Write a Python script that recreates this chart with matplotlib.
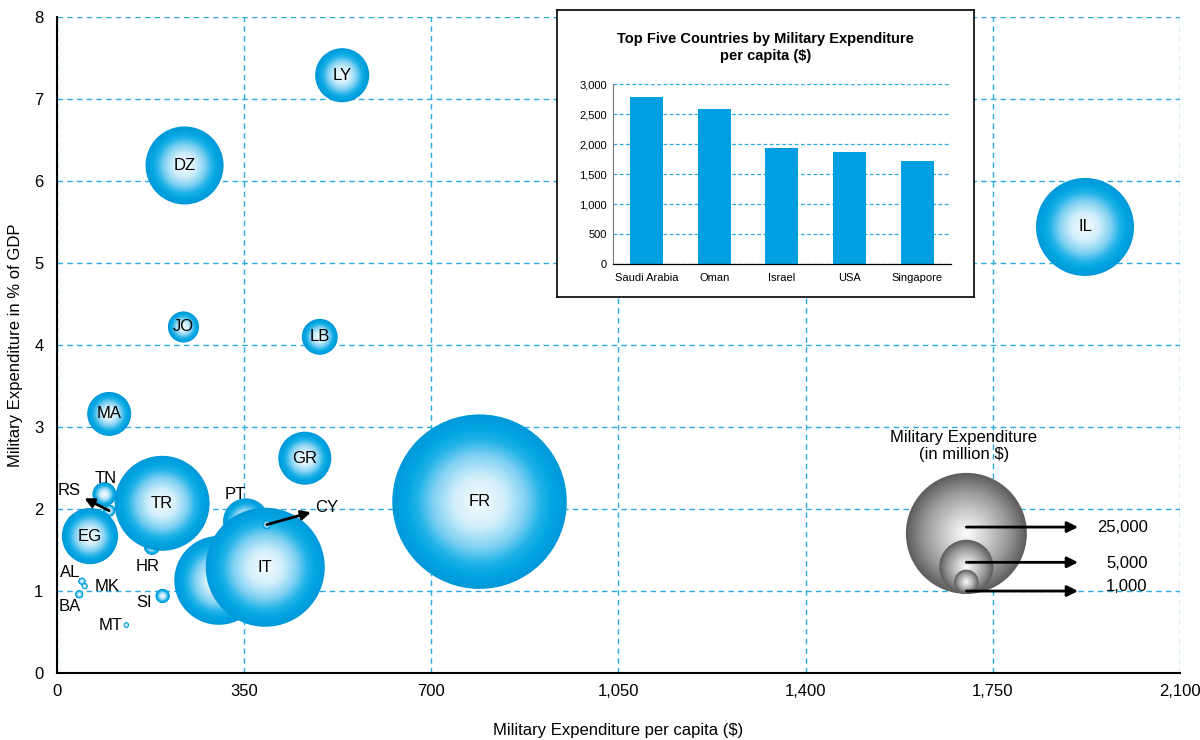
import numpy as np
import matplotlib.pyplot as plt
from matplotlib.colors import LinearSegmentedColormap
from matplotlib.ticker import FuncFormatter, MultipleLocator
from matplotlib.transforms import offset_copy

plt.rcParams['font.family'] = ['Liberation Sans', 'DejaVu Sans']

# bubble data (draw order: background first)
codes = ['FR', 'IL', 'DZ', 'LY', 'GR', 'RS', 'EG', 'MA', 'LB', 'JO', 'HR', 'TN',
         'TR', 'SI', 'MT', 'AL', 'MK', 'BA', 'ES', 'PT', 'IT', 'CY']
per_capita = [790, 1923, 238, 533, 463, 97, 61, 97, 491, 236, 177, 88,
              196, 197, 129, 46, 51, 41, 302, 353, 389, 392]
gdp_share = [2.09, 5.44, 6.19, 7.29, 2.62, 1.98, 1.67, 3.16, 4.10, 4.22, 1.54, 2.18,
             2.07, 0.94, 0.585, 1.12, 1.06, 0.96, 1.13, 1.85, 1.29, 1.81]
spend_musd = [52000, 16400, 10400, 5000, 4800, 250, 5400, 3300, 2200, 1650, 440, 980,
              15400, 340, 45, 85, 60, 110, 13500, 3600, 24200, 140]

# labels placed outside their bubble: offset in points, arrow or not
outside = {
    'TN': (1, 11.5, False), 'RS': (-29, 14.5, True), 'PT': (-8, 19, False),
    'HR': (-3, -14, False), 'AL': (-8.5, 6, False), 'MK': (16, -0.5, False),
    'BA': (-6.5, -9, False), 'SI': (-13, -4.5, False), 'MT': (-11, 0, False),
    'CY': (43, 12, True),
}

legend_values = [25000, 5000, 1000]
legend_labels = ['25,000', '5,000', '1,000']

# inset bar chart
top_countries = ['Saudi Arabia', 'Oman', 'Israel', 'USA', 'Singapore']
top_per_capita = [2790, 2590, 1935, 1865, 1715]

DPI = 100
R_REF = 60.5  # radius in px of a 25,000 bubble


def radius_px(v):
    return R_REF * np.sqrt(v / 25000.0)


def draw_bubble(ax, x, y, v, cmap, n=40, transform=None, z=2):
    r = radius_px(v)
    frac = np.linspace(1.0, 1.0 / n, n)
    sizes = (2 * r * frac * 72.0 / DPI) ** 2
    cols = cmap(frac)
    kw = {}
    if transform is not None:
        kw['transform'] = transform
    ax.scatter([x] * n, [y] * n, s=sizes, c=cols, linewidths=0, zorder=z, **kw)


blue = LinearSegmentedColormap.from_list('blue', [
    (0.0, '#f7fcff'), (0.3, '#d2effb'), (0.55, '#7ed0f2'),
    (0.72, '#22b3e8'), (0.85, '#03a6e2'), (1.0, '#0099da')])
grey = LinearSegmentedColormap.from_list('grey', [
    (0.0, '#ffffff'), (0.35, '#d0d0d0'), (0.7, '#9a9a9a'), (1.0, '#5e5e5e')])

fig = plt.figure(figsize=(12, 7.4), dpi=DPI)
ax = fig.add_axes([0.0478, 0.0905, 0.9352, 0.8865])

ax.set_xlim(0, 2100)
ax.set_ylim(0, 8)
ax.xaxis.set_major_locator(MultipleLocator(350))
ax.yaxis.set_major_locator(MultipleLocator(1))
ax.xaxis.set_major_formatter(FuncFormatter(lambda v, p: f'{v:,.0f}'))
ax.grid(True, color='#2cabe2', linestyle=(0, (4, 3)), linewidth=1, zorder=0)
ax.set_axisbelow(True)
for s in ['top', 'right']:
    ax.spines[s].set_visible(False)
for s in ['left', 'bottom']:
    ax.spines[s].set_linewidth(1.5)
ax.tick_params(length=0, labelsize=12)
ax.tick_params(axis='x', pad=8)
ax.tick_params(axis='y', pad=10)
ax.set_xlabel('Military Expenditure per capita ($)', fontsize=12, labelpad=17)
ax.set_ylabel('Military Expenditure in % of GDP', fontsize=12, labelpad=8)

for i, c in enumerate(codes):
    z = 2 + i * 0.01
    draw_bubble(ax, per_capita[i], gdp_share[i], spend_musd[i], blue, z=z)
    if c in outside:
        dx, dy, arrow = outside[c]
        props = None
        if arrow:
            props = dict(arrowstyle='<|-', color='black', lw=2, mutation_scale=14,
                         shrinkA=1, shrinkB=0)
        ax.annotate(c, (per_capita[i], gdp_share[i]), xytext=(dx, dy),
                    textcoords='offset points', ha='center', va='center',
                    fontsize=12, arrowprops=props, zorder=5)
    else:
        ax.text(per_capita[i], gdp_share[i], c, ha='center', va='center',
                fontsize=12, zorder=z + 0.005)

# size legend
leg_x, leg_base = 1701, 0.965
arrow_y = [1.78, 1.35, 1.0]
text_y = [1.78, 1.34, 1.05]
for k, v in enumerate(legend_values):
    r_pt = radius_px(v) * 72.0 / DPI
    tr = offset_copy(ax.transData, fig=fig, y=r_pt, units='points')
    draw_bubble(ax, leg_x, leg_base, v, grey, transform=tr, z=3 + k * 0.1)
for k in range(len(legend_values)):
    ax.annotate('', xy=(1910, arrow_y[k]), xytext=(leg_x, arrow_y[k]),
                arrowprops=dict(arrowstyle='-|>', color='black', lw=2,
                                mutation_scale=16, shrinkA=0, shrinkB=0),
                zorder=4)
    ax.text(2040, text_y[k], legend_labels[k], ha='right', va='center',
            fontsize=12, zorder=4)
ax.text(1696, 2.77, 'Military Expenditure\n(in million $)', ha='center',
        va='center', fontsize=12, linespacing=1.2, zorder=4)

# inset frame
box = fig.add_axes([0.4642, 0.5986, 0.3475, 0.3878])
box.set_facecolor('white')
box.set_xticks([])
box.set_yticks([])
for s in box.spines.values():
    s.set_linewidth(1.2)
box.text(0.5, 0.925, 'Top Five Countries by Military Expenditure\nper capita ($)',
         transform=box.transAxes, ha='center', va='top', fontsize=10.5,
         fontweight='bold', linespacing=1.3)

bx = fig.add_axes([0.5106, 0.6428, 0.2819, 0.2436])
bx.set_facecolor('none')
xpos = np.arange(len(top_countries))
bx.bar(xpos, top_per_capita, width=0.49, color='#009fe2', zorder=2)
bx.set_xlim(-0.5, 4.5)
bx.set_ylim(0, 3000)
bx.set_xticks(xpos)
bx.set_xticklabels(top_countries)
bx.yaxis.set_major_locator(MultipleLocator(500))
bx.yaxis.set_major_formatter(FuncFormatter(lambda v, p: f'{v:,.0f}'))
bx.grid(True, axis='y', color='#2cabe2', linestyle=(0, (3, 2)), linewidth=0.9, zorder=0)
bx.set_axisbelow(True)
bx.spines['top'].set_visible(False)
bx.spines['right'].set_visible(False)
bx.spines['left'].set_color('#777777')
bx.spines['left'].set_linewidth(0.8)
bx.spines['bottom'].set_linewidth(0.9)
bx.tick_params(length=0, labelsize=8)
bx.tick_params(axis='x', pad=6)
bx.tick_params(axis='y', pad=4)

fig.savefig('out.png', dpi=DPI)
